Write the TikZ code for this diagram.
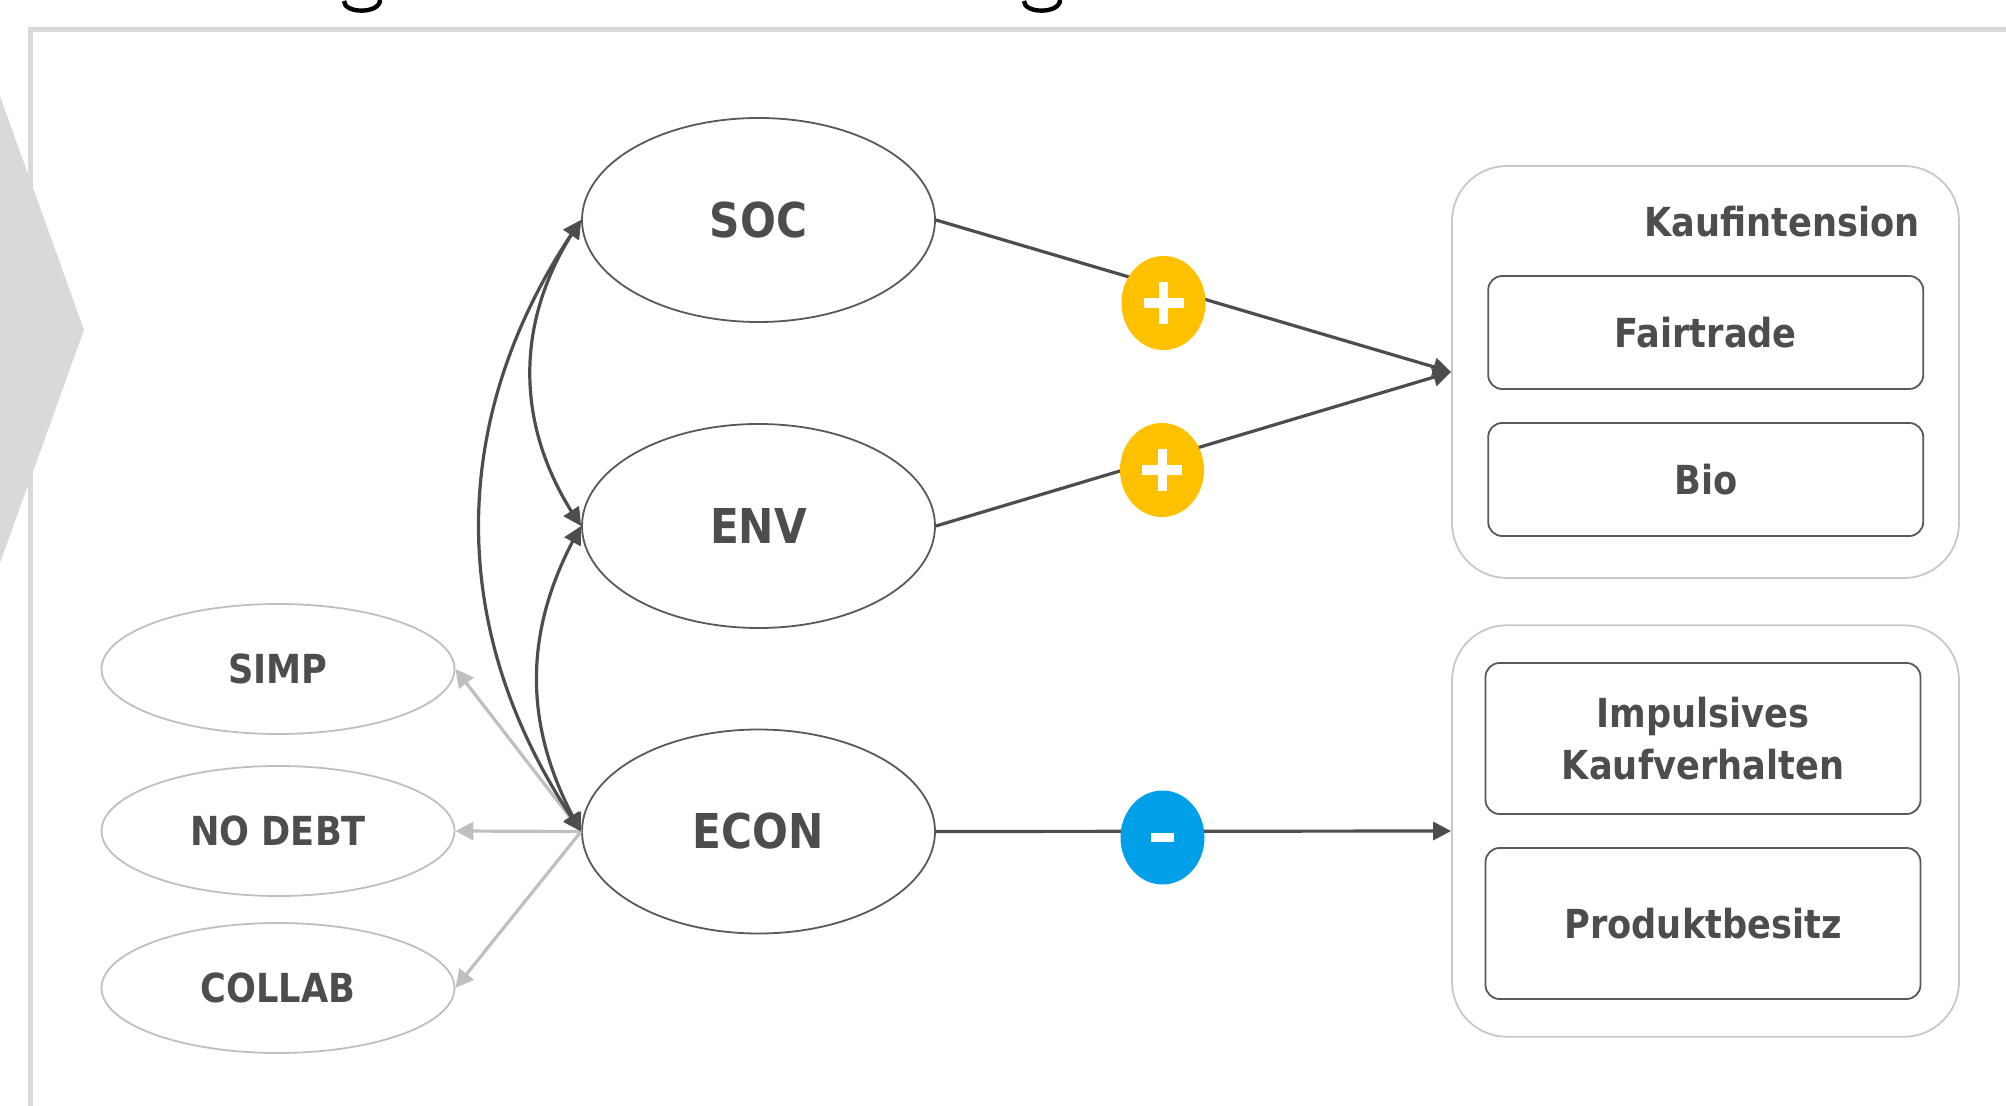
\documentclass[tikz,border=0pt]{standalone}
\usepackage{fontspec}
\setmainfont{DejaVu Sans}[FakeStretch=0.88]
\usetikzlibrary{arrows.meta,shapes.geometric,bending}
\definecolor{ink}{HTML}{4D4D4D}
\definecolor{edge}{HTML}{4D4D4D}
\definecolor{rim}{HTML}{595959}
\definecolor{pale}{HTML}{BFBFBF}
\definecolor{palerim}{HTML}{C8C8C8}
\definecolor{framegray}{HTML}{D9D9D9}
\definecolor{posit}{HTML}{FFC000}
\definecolor{negat}{HTML}{00A0E9}
\begin{document}
\begin{tikzpicture}[x=0.5pt,y=0.5pt,
  bigfont/.style={font=\fontsize{24}{28}\selectfont\bfseries},
  smallfont/.style={font=\fontsize{20}{26}\selectfont\bfseries},
  construct/.style={ellipse, draw=rim, line width=0.9pt, minimum width=176.5pt,
    minimum height=102pt, inner sep=0pt, text=ink, bigfont},
  indicator/.style={ellipse, draw=pale, line width=0.9pt, minimum width=176.5pt,
    minimum height=65pt, inner sep=0pt, text=ink, smallfont},
  group/.style={rectangle, rounded corners=27.5pt, draw=palerim, line width=0.9pt,
    minimum width=253.5pt, minimum height=206pt, inner sep=0pt},
  item/.style={rectangle, rounded corners=7pt, draw=rim, line width=0.9pt,
    minimum width=217.5pt, inner sep=0pt, text=ink, smallfont, align=center},
  sign/.style={ellipse, minimum width=42pt, minimum height=47pt, inner sep=0pt},
  tip/.style={-{Triangle[length=9pt,width=9pt]}},
  link/.style={draw=edge, line width=1.6pt, tip},
  covary/.style={draw=edge, line width=1.6pt,
    {Triangle[length=9pt,width=9pt]}-{Triangle[length=9pt,width=9pt]}},
  load/.style={draw=pale, line width=1.6pt, tip},
]
\path[use as bounding box] (0,0) rectangle (2006,-1106);
\clip (0,0) rectangle (2006,-1106);

% slide frame and chevron
\draw[framegray, line width=2.5pt] (30,-30) rectangle (2300,-1400);
\fill[framegray] (0,-96) -- (84,-330) -- (0,-563) -- cycle;

% descenders of the heading above the frame
\draw[black, line width=2.2pt] (344,-1) .. controls (344,-14) and (380,-14) .. (380,0);
\draw[black, line width=2.2pt] (1024,-1) .. controls (1024,-14) and (1060,-14) .. (1060,0);

% latent constructs
\node[construct] (soc)  at (758.5,-220)   {SOC};
\node[construct] (env)  at (758.5,-526)   {ENV};
\node[construct] (econ) at (758.5,-831.5) {ECON};

% indicators of ECON
\node[indicator] (simp)   at (278,-669) {SIMP};
\node[indicator] (nodebt) at (278,-831) {NO DEBT};
\node[indicator] (collab) at (278,-988) {COLLAB};

% outcome groups
\node[group] (grp1) at (1705.5,-372) {};
\node[anchor=base east, text=ink, smallfont] (kauf) at (1927,-237) {Kaufintension};
\node[item, minimum height=56.5pt] (fair) at (1705.7,-332.5) {Fairtrade};
\node[item, minimum height=56.5pt] (bio)  at (1705.7,-479.5) {Bio};

\node[group, minimum height=205.75pt] (grp2) at (1705.5,-831) {};
\node[item, minimum height=75.5pt] (impuls) at (1703,-738.5) {Impulsives\\Kaufverhalten};
\node[item, minimum height=75.5pt] (prod)   at (1703,-923.5) {Produktbesitz};

% loadings
\draw[load] (econ.west) -- (simp.east);
\draw[load] (econ.west) -- (nodebt.east);
\draw[load] (econ.west) -- (collab.east);

% covariances
\draw[covary] (soc.west) to[out=235,in=125] (env.west);
\draw[covary] (env.west) to[out=240,in=120] (econ.west);
\draw[covary] (soc.west) to[out=235,in=125] (econ.west);

% paths to outcomes
\draw[link] (soc.east) -- (grp1.west);
\draw[link] (env.east) -- (grp1.west);
\draw[link] (econ.east) -- (grp2.west);

% effect signs
\node[sign, fill=posit] (p1) at (1163.5,-303) {};
\node[sign, fill=posit] (p2) at (1162,-470) {};
\node[sign, fill=negat] (m1) at (1162.5,-837.5) {};
\fill[white] ([shift={(-20,-5)}]p1.center) rectangle ([shift={(20,5)}]p1.center);
\fill[white] ([shift={(-4.5,-21)}]p1.center) rectangle ([shift={(4.5,21)}]p1.center);
\fill[white] ([shift={(-20,-5)}]p2.center) rectangle ([shift={(20,5)}]p2.center);
\fill[white] ([shift={(-4.5,-21)}]p2.center) rectangle ([shift={(4.5,21)}]p2.center);
\fill[white] ([shift={(-11.5,-4.5)}]m1.center) rectangle ([shift={(11.5,4.5)}]m1.center);
\end{tikzpicture}
\end{document}
